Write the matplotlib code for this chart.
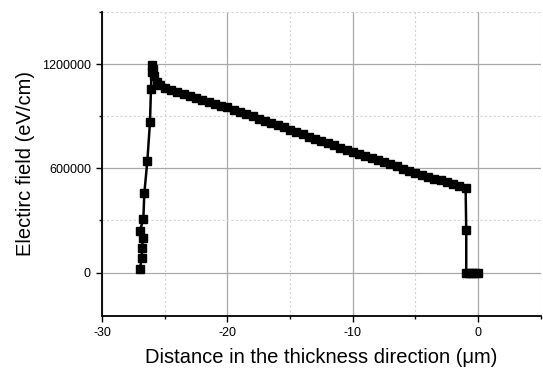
import numpy as np
import matplotlib.pyplot as plt
from matplotlib.ticker import MultipleLocator, FuncFormatter

plt.rcParams['font.family'] = ['Liberation Sans', 'DejaVu Sans']
plt.rcParams['axes.unicode_minus'] = False

# Electric field across the layer
# rising edge near the back side
rise_x = [-26.98, -26.84, -26.79, -26.76, -26.98, -26.71, -26.63, -26.39,
          -26.18, -26.10, -26.05, -26.00, -25.95, -25.85, -25.65, -25.40]
rise_y = [21000, 85000, 142000, 200000, 242000, 306000, 457000, 642000,
          864000, 1054000, 1156000, 1194000, 1170000, 1130000, 1098000, 1079000]

# nearly linear decay through the thickness
slope_x = [-25.0, -24.5, -24.0, -23.5, -23.0, -22.5, -22.0, -21.5, -21.0, -20.5,
           -20.0, -19.5, -19.0, -18.5, -18.0, -17.5, -17.0, -16.5, -16.0, -15.5,
           -15.0, -14.5, -14.0, -13.5, -13.0, -12.5, -12.0, -11.5, -11.0, -10.5,
           -10.0, -9.5, -9.0, -8.5, -8.0, -7.5, -7.0, -6.5, -6.0, -5.5,
           -5.0, -4.5, -4.0, -3.5, -3.0, -2.5, -2.0, -1.5, -1.0]
slope_y = [1060000, 1049000, 1038000, 1027000, 1016000, 1005000, 994000, 983000, 972000, 961000,
           950000, 937000, 924000, 912000, 899000, 886000, 873000, 860000, 847000, 835000,
           822000, 809000, 796000, 783000, 771000, 758000, 745000, 732000, 719000, 707000,
           694000, 682000, 670000, 658000, 647000, 635000, 623000, 611000, 599000, 587000,
           575000, 564000, 552000, 541000, 530000, 519000, 508000, 496000, 485000]

# drop at the front surface
drop_x = [-0.95, -0.95, -0.75, -0.5, -0.25, 0.0]
drop_y = [246000, 0, 0, 0, 0, 0]

x = rise_x + slope_x + drop_x
y = rise_y + slope_y + drop_y

fig = plt.figure(figsize=(5.43, 3.71), dpi=100)
ax = fig.add_axes([0.188, 0.148, 0.808, 0.82])

ax.plot(x, y, color='black', linewidth=1.8, marker='s', markersize=6.4,
        markerfacecolor='black', markeredgecolor='black', zorder=3)

ax.set_xlim(-30, 5)
ax.set_ylim(-250000, 1500000)
ax.xaxis.set_major_locator(MultipleLocator(10))
ax.xaxis.set_minor_locator(MultipleLocator(5))
ax.yaxis.set_major_locator(MultipleLocator(600000))
ax.yaxis.set_minor_locator(MultipleLocator(300000))
ax.yaxis.set_major_formatter(FuncFormatter(lambda v, p: f'{v:.0f}'))
ax.xaxis.set_major_formatter(FuncFormatter(lambda v, p: f'{v:.0f}'))

ax.grid(True, which='major', color='#a8a8a8', linewidth=0.9, linestyle='-')
ax.grid(True, which='minor', color='#d4d4d4', linewidth=0.8, linestyle=(0, (2, 2)))
ax.set_axisbelow(True)

ax.spines['top'].set_visible(False)
ax.spines['right'].set_visible(False)
ax.spines['left'].set_linewidth(1.3)
ax.spines['bottom'].set_linewidth(1.3)

ax.tick_params(which='major', direction='out', length=4, width=1, labelsize=9, pad=4)
ax.tick_params(which='minor', direction='out', length=2.5, width=1)

ax.set_xlabel('Distance in the thickness direction (μm)', fontsize=14.5, labelpad=6)
ax.set_ylabel('Electirc field (eV/cm)', fontsize=14.5, labelpad=5)

fig.savefig('out.png', dpi=100)
